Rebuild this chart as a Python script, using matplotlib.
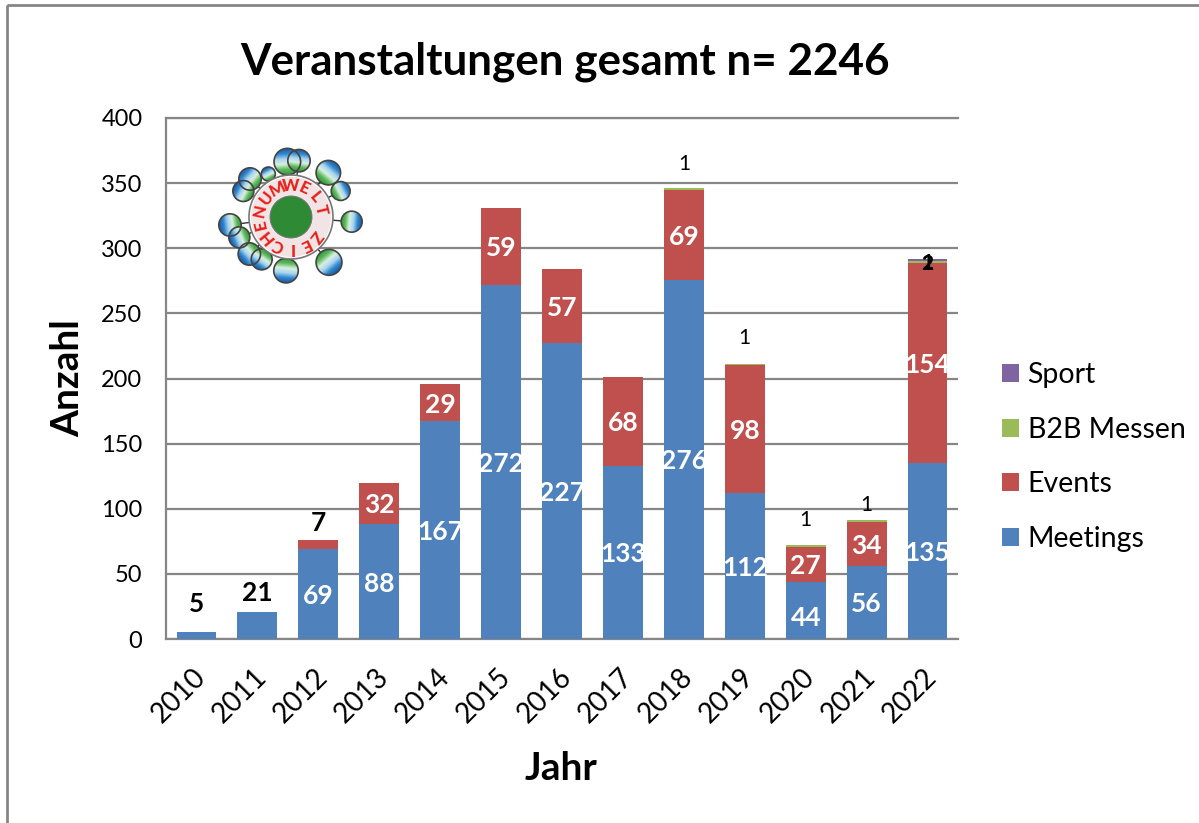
import numpy as np
import matplotlib
matplotlib.use('Agg')
import matplotlib.pyplot as plt
from matplotlib.colors import LinearSegmentedColormap
from matplotlib.patches import Circle, Rectangle, Wedge
from matplotlib.transforms import ScaledTranslation

plt.rcParams['font.family'] = ['Lato', 'DejaVu Sans']

years = ['2010', '2011', '2012', '2013', '2014', '2015', '2016',
         '2017', '2018', '2019', '2020', '2021', '2022']
meetings = [5, 21, 69, 88, 167, 272, 227, 133, 276, 112, 44, 56, 135]
events = [0, 0, 7, 32, 29, 59, 57, 68, 69, 98, 27, 34, 154]
b2b = [0, 0, 0, 0, 0, 0, 0, 0, 1, 1, 1, 1, 1]
sport = [0, 0, 0, 0, 0, 0, 0, 0, 0, 0, 0, 0, 2]

W, H = 1199, 823
fig = plt.figure(figsize=(W / 100, H / 100), dpi=100)
ax = fig.add_axes([166 / W, 1 - 639 / H, 792 / W, 521 / H])

x = np.arange(len(years))
m = np.array(meetings)
e = np.array(events)
b = np.array(b2b)
s = np.array(sport)
bw = 0.655
ax.bar(x, m, bw, color='#4f81bd', label='Meetings', zorder=3)
ax.bar(x, e, bw, bottom=m, color='#c0504d', label='Events', zorder=3)
ax.bar(x, b, bw, bottom=m + e, color='#9bbb59', label='B2B Messen', zorder=3)
ax.bar(x, s, bw, bottom=m + e + b, color='#8064a2', label='Sport', zorder=3)

ax.set_xlim(-0.5, len(years) - 0.5)
ax.set_ylim(0, 400)
ax.set_yticks(range(0, 401, 50))
ax.set_xticks(x)
ax.set_xticklabels(years, rotation=45, ha='right', rotation_mode='anchor')
ax.grid(axis='y', color='#868686', lw=1.6, zorder=1)
ax.set_axisbelow(True)
ax.spines['right'].set_visible(False)
for side in ['top', 'left', 'bottom']:
    ax.spines[side].set_color('#868686')
    ax.spines[side].set_linewidth(1.6)
ax.tick_params(axis='y', labelsize=17, length=0, pad=17)
ax.tick_params(axis='x', labelsize=20, length=0, pad=18)
shift = ScaledTranslation(-4 / 100, 0, fig.dpi_scale_trans)
for lab in ax.get_xticklabels():
    lab.set_transform(lab.get_transform() + shift)

# labels inside the bars
for i in x:
    if m[i] > 30:
        off = 6 if m[i] == 44 else 1.5
        ax.text(i, m[i] / 2 - off, str(m[i]), color='white', fontsize=19, fontweight='bold',
                ha='center', va='center', zorder=5)
    if e[i] > 10:
        ax.text(i, m[i] + e[i] / 2 - 1.5, str(e[i]), color='white', fontsize=19, fontweight='bold',
                ha='center', va='center', zorder=5)

# labels set outside the bars
ax.text(0, 27, '5', fontsize=19, fontweight='bold', ha='center', va='center', zorder=5)
ax.text(1, 35, '21', fontsize=19, fontweight='bold', ha='center', va='center', zorder=5)
ax.text(2, 89, '7', fontsize=19, fontweight='bold', ha='center', va='center', zorder=5)
ax.text(8, 365, '1', fontsize=15, ha='center', va='center', zorder=5)
ax.text(9, 231, '1', fontsize=15, ha='center', va='center', zorder=5)
ax.text(10, 91, '1', fontsize=15, ha='center', va='center', zorder=5)
ax.text(11, 103, '1', fontsize=15, ha='center', va='center', zorder=5)
ax.text(12, 289, '1', fontsize=15, fontweight='bold', ha='center', va='center', zorder=5)
ax.text(12, 288, '2', fontsize=15, fontweight='bold', ha='center', va='center', zorder=5)

handles, labels = ax.get_legend_handles_labels()
fig.legend(handles[::-1], labels[::-1], loc='center left',
           bbox_to_anchor=(1002 / W, 1 - 457 / H), frameon=False, fontsize=20.5,
           handlelength=0.6, handleheight=0.6, handletextpad=0.3, labelspacing=1.0,
           borderpad=0, borderaxespad=0)

fig.text(565 / W, 1 - 62 / H, 'Veranstaltungen gesamt n= 2246', fontsize=31.7,
         fontweight='bold', ha='center', va='center')
fig.text(68 / W, 1 - 378 / H, 'Anzahl', fontsize=28, fontweight='bold',
         rotation=90, ha='center', va='center')
fig.text(561 / W, 1 - 769 / H, 'Jahr', fontsize=28, fontweight='bold',
         ha='center', va='center')

# overlay in pixel coordinates for the chart frame and the logo
ov = fig.add_axes([0, 0, 1, 1], zorder=10)
ov.patch.set_alpha(0)
ov.axis('off')
ov.add_patch(Rectangle((7, 5), W + 20, H + 20, fill=False, ec='#868686', lw=2))

cx, cy = 291, 217
cmap = LinearSegmentedColormap.from_list(
    'balloon', ['#2f9a3a', '#5cb85a', '#d8f0e0', '#a8d4f0', '#2f86cc', '#1c5aa8'])
balloons = [(262, 95, 38), (297, 92, 32), (385, 128, 35), (422, 183, 27), (205, 132, 20),
            (150, 147, 32), (130, 183, 30), (455, 275, 30), (90, 285, 32), (118, 322, 30),
            (148, 372, 32), (185, 388, 30), (258, 422, 35), (387, 397, 37)]
for zx, zy, zr in balloons:
    bx, by, r = 200 + zx / 3, 130 + zy / 3, zr / 3 * 1.05
    d = np.array([bx - cx, by - cy])
    d = d / np.hypot(*d)
    ov.plot([cx + 40 * d[0], bx], [cy + 40 * d[1], by], color='#333333', lw=1, zorder=2)
    gx, gy = np.meshgrid(np.linspace(-1, 1, 40), np.linspace(-1, 1, 40))
    im = ov.imshow(gx * d[0] + gy * d[1], cmap=cmap, vmin=-1, vmax=1, aspect='auto',
                   extent=(bx - r, bx + r, by + r, by - r), zorder=3)
    clip = Circle((bx, by), r, transform=ov.transData)
    im.set_clip_path(clip)
    ov.add_patch(Circle((bx, by), r, fill=False, ec='#444444', lw=1.2, zorder=4))

ov.add_patch(Circle((cx, cy), 42, fc='white', ec='#777777', lw=1.2, zorder=5))
ov.add_patch(Wedge((cx, cy), 40, 0, 360, width=18, fc='#f2e4e4', ec='none', zorder=5))
ov.add_patch(Circle((cx, cy), 21, fc='#2f8a35', ec='#777777', lw=0.8, zorder=7))
letters = 'UMWELT ZEICHEN'
for i, ch in enumerate(letters):
    ang = np.deg2rad(-52 + i * 360 / len(letters))
    ov.text(cx + 31 * np.sin(ang), cy - 31 * np.cos(ang), ch, color='#e8201a', fontsize=12,
            fontweight='black', ha='center', va='center',
            rotation=-np.rad2deg(ang), rotation_mode='anchor', zorder=8)

ov.set_xlim(0, W)
ov.set_ylim(H, 0)

fig.savefig('out.png', dpi=100)
